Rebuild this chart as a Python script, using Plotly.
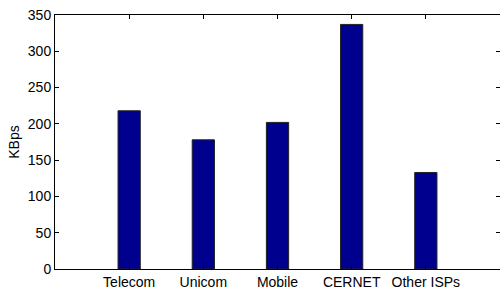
import plotly.graph_objects as go

categories = ["Telecom", "Unicom", "Mobile", "CERNET", "Other ISPs"]
positions = [1, 2, 3, 4, 5]
kbps = [218, 178, 202, 337, 133]
y_ticks = [0, 50, 100, 150, 200, 250, 300, 350]

FONT = "Liberation Sans, Arial, sans-serif"

fig = go.Figure()
fig.add_trace(go.Bar(
    x=positions, y=kbps, width=0.3,
    marker=dict(color="#00008F", line=dict(color="#222222", width=1)),
))

axis_common = dict(
    showline=True, linecolor="black", linewidth=1, mirror="ticks",
    ticks="inside", ticklen=4, tickcolor="black", showgrid=False,
    zeroline=False, automargin=False,
    tickfont=dict(family=FONT, size=14, color="black"),
)

fig.update_xaxes(range=[0, 6], tickvals=positions, ticktext=categories, ticklabelstandoff=0, **axis_common)
fig.update_yaxes(range=[0, 350], tickvals=y_ticks, ticklabelstandoff=0,
                 title=dict(text="KBps", standoff=4, font=dict(family=FONT, size=14, color="black")),
                 **axis_common)

fig.update_layout(
    width=500, height=288,
    margin=dict(l=55, r=0, t=15, b=19),
    plot_bgcolor="white", paper_bgcolor="white",
    showlegend=False,
    font=dict(family=FONT, size=14, color="black"),
)

fig.write_html(
    "out.html",
    config={"responsive": False, "displayModeBar": False},
    post_script="document.body.style.margin='0px'; document.body.style.padding='0px';",
)
